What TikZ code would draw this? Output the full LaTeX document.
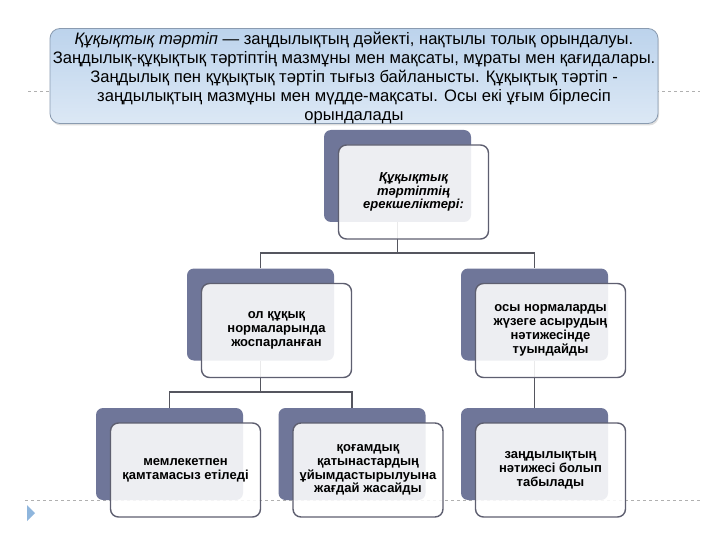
\documentclass[tikz,border=0pt]{standalone}
\usepackage{fontspec}
\setmainfont{Liberation Sans}
\usetikzlibrary{shadows}
\definecolor{slateC}{HTML}{6F7699}
\definecolor{frameC}{HTML}{5E5F70}
\definecolor{connC}{HTML}{55565F}
\definecolor{topA}{HTML}{BCD3EC}
\definecolor{topB}{HTML}{DCE8F5}
\definecolor{topEdge}{HTML}{8A9BB0}
\definecolor{dashC}{HTML}{B0B0B0}
\definecolor{triC}{HTML}{8FB6DD}
\begin{document}
\begin{tikzpicture}[x=1pt,y=-1pt,
  backbox/.style={fill=slateC, rounded corners=7pt, minimum width=147pt, minimum height=92pt, inner sep=0pt},
  frontbox/.style={draw=frameC, line width=1.4pt, fill=white, fill opacity=0.88, rounded corners=8pt, minimum width=150pt, minimum height=94pt, inner sep=0pt},
  lbl/.style={font=\bfseries\fontsize{13}{13.8}\selectfont, align=center, text=black},
  conn/.style={draw=connC, line width=1.4pt},
  guide/.style={draw=dashC, line width=0.7pt, dashed}
]
\useasboundingbox (0,0) rectangle (720,540);
\fill[white] (0,0) rectangle (720,540);
% guide lines
\draw[guide] (28,91) -- (52,91);
\draw[guide] (656,91) -- (700,91);
\draw[guide] (25,500) -- (700,500);
\fill[triC] (27,505) -- (27,521) -- (35,513) -- cycle;
% top box
\node[draw=topEdge, line width=0.8pt, rounded corners=10pt, top color=topA, bottom color=topB,
      minimum width=608pt, minimum height=95pt, inner sep=0pt,
      drop shadow={opacity=0.25, shadow xshift=1pt, shadow yshift=-2pt}] (top) at (354,76) {};
\node[font=\fontsize{16.6}{19}\selectfont, align=center, text=black] (toptext) at (354,78.5)
 {\textit{Құқықтық тәртіп} — заңдылықтың дәйекті, нақтылы толық орындалуы.\\
  Заңдылық-құқықтық тәртіптің мазмұны мен мақсаты, мұраты мен қағидалары.\\
  Заңдылық пен құқықтық тәртіп тығыз байланысты. Құқықтық тәртіп -\\
  заңдылықтың мазмұны мен мүдде-мақсаты. Осы екі ұғым бірлесіп\\
  орындалады};
% back boxes
\node[backbox] (cback) at (397.5,176) {};
\node[backbox] (lback) at (260.5,314.5) {};
\node[backbox] (rback) at (534.5,314.5) {};
\node[backbox] (blback) at (169.5,454) {};
\node[backbox] (bmback) at (352,454) {};
\node[backbox] (brback) at (534.5,454) {};
% connectors
\coordinate (j1) at (397.5,253);
\coordinate (j2) at (260.5,392);
\draw[conn] (cback.south) -- (j1);
\draw[conn] (lback.north) |- (j1) -| (rback.north);
\draw[conn] (lback.south) -- (j2);
\draw[conn] (blback.north) |- (j2) -| (bmback.north);
\draw[conn] (rback.south) -- (brback.north);
% front boxes
\node[frontbox] (cfront) at (413.5,192) {};
\node[frontbox] (lfront) at (276.5,330.5) {};
\node[frontbox] (rfront) at (550.5,330.5) {};
\node[frontbox] (blfront) at (185.5,470) {};
\node[frontbox] (bmfront) at (368,470) {};
\node[frontbox] (brfront) at (550.5,470) {};
% labels
\node[lbl, font=\bfseries\itshape\fontsize{13}{13.8}\selectfont] (ctext) at (cfront.center) {Құқықтық\\тәртіптің\\ерекшеліктері:};
\node[lbl] (ltext) at (lfront.center) {ол құқық\\нормаларында\\жоспарланған};
\node[lbl] (rtext) at (rfront.center) {осы нормаларды\\жүзеге асырудың\\нәтижесінде\\туындайды};
\node[lbl] (bltext) at (blfront.center) {мемлекетпен\\қамтамасыз етіледі};
\node[lbl] (bmtext) at (bmfront.center) {қоғамдық\\қатынастардың\\ұйымдастырылуына\\жағдай жасайды};
\node[lbl] (brtext) at (brfront.center) {заңдылықтың\\нәтижесі болып\\табылады};
\end{tikzpicture}
\end{document}
